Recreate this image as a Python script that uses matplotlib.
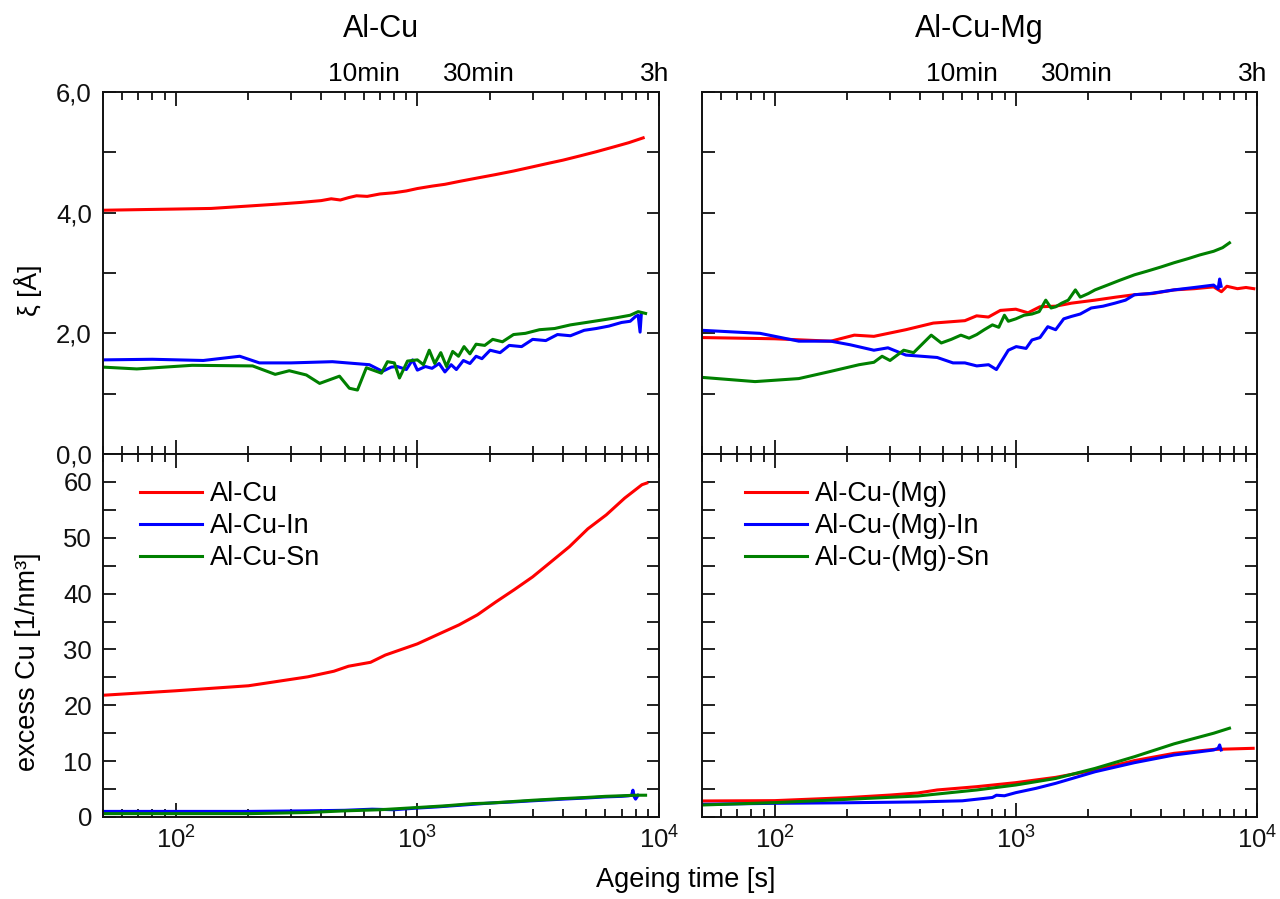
import matplotlib
matplotlib.use("Agg")
import matplotlib.pyplot as plt
from matplotlib.ticker import LogLocator, NullFormatter, FixedLocator, FuncFormatter

plt.rcParams['font.family'] = ['Liberation Sans', 'DejaVu Sans']
plt.rcParams['mathtext.fontset'] = 'custom'
plt.rcParams['mathtext.rm'] = 'Liberation Sans'
plt.rcParams['mathtext.it'] = 'Liberation Sans:italic'
plt.rcParams['mathtext.bf'] = 'Liberation Sans:bold'

# ---------------- data ----------------
panel_titles = ["Al-Cu", "Al-Cu-Mg"]
time_labels = ["10min", "30min", "3h"]
time_label_pos = [600, 1800, 9600]
legend_left = ["Al-Cu", "Al-Cu-In", "Al-Cu-Sn"]
legend_right = ["Al-Cu-(Mg)", "Al-Cu-(Mg)-In", "Al-Cu-(Mg)-Sn"]
colors = ["#ff0000", "#0000ff", "#008000"]
xi_ticks = [0, 2, 4, 6]
xi_minor = [1, 3, 5]
cu_ticks = [0, 10, 20, 30, 40, 50, 60]
cu_minor = [5, 15, 25, 35, 45, 55]

# top-left: correlation length xi [A]
tl_red_x = [50, 70, 100, 140, 200, 260, 330, 400, 440, 480, 520, 560, 620, 700, 800, 900, 1000, 1150, 1300,
            1500, 1800, 2100, 2500, 3000, 3500, 4000, 4700, 5500, 6500, 7500, 8600]
tl_red_y = [4.04, 4.05, 4.06, 4.07, 4.11, 4.14, 4.17, 4.20, 4.23, 4.21, 4.25, 4.28, 4.27, 4.31, 4.33, 4.36, 4.40,
            4.44, 4.47, 4.52, 4.58, 4.63, 4.69, 4.76, 4.82, 4.87, 4.94, 5.01, 5.09, 5.16, 5.24]
tl_blue_x = [50, 80, 130, 184, 222, 300, 445, 550, 633, 717, 780, 826, 900, 955, 1000, 1080, 1150, 1230, 1300,
             1380, 1450, 1550, 1650, 1750, 1850, 2000, 2200, 2400, 2700, 3000, 3400, 3800, 4300, 4900, 5500,
             6200, 7000, 7600, 8000, 8200, 8350, 8450]
tl_blue_y = [1.56, 1.57, 1.55, 1.62, 1.51, 1.51, 1.53, 1.50, 1.48, 1.37, 1.44, 1.45, 1.40, 1.56, 1.39, 1.45,
             1.42, 1.50, 1.36, 1.48, 1.40, 1.55, 1.50, 1.62, 1.58, 1.72, 1.68, 1.80, 1.78, 1.90, 1.88, 1.98,
             1.96, 2.05, 2.08, 2.12, 2.18, 2.20, 2.28, 2.30, 2.02, 2.32]
tl_green_x = [50, 69, 117, 208, 258, 295, 347, 394, 476, 523, 565, 615, 710, 752, 803, 843, 910, 1000, 1060,
              1120, 1180, 1250, 1320, 1400, 1480, 1560, 1650, 1750, 1900, 2050, 2250, 2500, 2800, 3200, 3700,
              4300, 5000, 5800, 6700, 7600, 8200, 8800]
tl_green_y = [1.44, 1.41, 1.47, 1.46, 1.32, 1.38, 1.31, 1.17, 1.29, 1.09, 1.06, 1.43, 1.34, 1.53, 1.51, 1.26,
              1.54, 1.56, 1.48, 1.72, 1.50, 1.68, 1.45, 1.70, 1.62, 1.78, 1.66, 1.82, 1.80, 1.90, 1.86, 1.98,
              2.00, 2.06, 2.08, 2.14, 2.18, 2.22, 2.26, 2.30, 2.36, 2.33]

# top-right
tr_red_x = [50, 100, 171, 214, 258, 350, 455, 615, 688, 770, 863, 1000, 1124, 1258, 1463, 1700, 2130, 2600,
            3105, 3700, 4530, 5500, 6610, 7120, 7500, 8300, 9000, 9700]
tr_red_y = [1.93, 1.91, 1.87, 1.97, 1.95, 2.06, 2.17, 2.21, 2.29, 2.27, 2.38, 2.40, 2.34, 2.44, 2.45, 2.50,
            2.55, 2.60, 2.64, 2.66, 2.72, 2.74, 2.77, 2.69, 2.78, 2.74, 2.76, 2.74]
tr_blue_x = [50, 87, 126, 171, 206, 258, 295, 350, 472, 549, 615, 689, 771, 831, 931, 1004, 1103, 1167, 1260,
             1357, 1463, 1580, 1700, 1850, 2054, 2300, 2575, 2850, 3105, 3600, 4530, 5500, 6610, 6900, 7000, 7100]
tr_blue_y = [2.05, 2.00, 1.87, 1.87, 1.81, 1.72, 1.76, 1.64, 1.60, 1.51, 1.51, 1.46, 1.48, 1.40, 1.72, 1.78,
             1.75, 1.89, 1.93, 2.11, 2.06, 2.24, 2.28, 2.32, 2.42, 2.45, 2.50, 2.55, 2.64, 2.66, 2.72, 2.76,
             2.80, 2.74, 2.90, 2.78]
tr_green_x = [50, 83, 126, 171, 224, 258, 279, 301, 343, 377, 446, 491, 540, 592, 640, 689, 740, 800, 850, 897,
              931, 1000, 1082, 1167, 1250, 1331, 1400, 1463, 1550, 1650, 1766, 1850, 2000, 2130, 2400, 2700,
              3105, 3500, 4000, 4530, 5200, 5800, 6610, 7200, 7690]
tr_green_y = [1.27, 1.20, 1.25, 1.37, 1.48, 1.52, 1.62, 1.55, 1.72, 1.68, 1.97, 1.84, 1.90, 1.97, 1.92, 1.98,
              2.06, 2.14, 2.10, 2.30, 2.20, 2.24, 2.30, 2.32, 2.36, 2.55, 2.42, 2.44, 2.50, 2.55, 2.72, 2.60,
              2.66, 2.72, 2.80, 2.88, 2.97, 3.03, 3.10, 3.17, 3.24, 3.30, 3.36, 3.42, 3.50]

# bottom-left: excess Cu [1/nm^3]
bl_red_x = [50, 100, 200, 352, 451, 519, 640, 737, 1000, 1247, 1487, 1772, 2111, 2516, 3000, 3575, 4258, 5075,
            6050, 7210, 8500, 8900]
bl_red_y = [21.8, 22.6, 23.5, 25.1, 26.1, 27.0, 27.7, 29.0, 31.0, 32.9, 34.4, 36.2, 38.5, 40.7, 43.0, 45.7,
            48.4, 51.6, 54.1, 57.1, 59.5, 59.8]
bl_blue_x = [50, 100, 200, 350, 500, 650, 800, 1000, 1200, 1500, 2000, 2500, 3000, 4000, 5000, 6000, 7000, 7500,
             7700, 7800, 7900, 8000, 8200]
bl_blue_y = [1.0, 1.0, 1.0, 1.1, 1.2, 1.4, 1.3, 1.6, 1.8, 2.1, 2.5, 2.7, 2.9, 3.2, 3.4, 3.6, 3.7, 3.8, 3.9,
             4.8, 3.6, 3.2, 3.9]
bl_green_x = [50, 100, 200, 350, 500, 700, 1000, 1300, 1700, 2000, 3000, 4000, 5000, 6000, 7000, 8000, 8800]
bl_green_y = [0.6, 0.6, 0.6, 0.8, 1.1, 1.3, 1.7, 2.0, 2.4, 2.5, 3.0, 3.3, 3.5, 3.7, 3.8, 3.9, 3.9]

# bottom-right
br_red_x = [50, 100, 199, 301, 392, 472, 689, 1000, 1463, 2130, 3105, 4530, 6610, 8000, 9640]
br_red_y = [2.87, 2.93, 3.46, 3.93, 4.3, 4.84, 5.43, 6.15, 7.1, 8.4, 10.1, 11.4, 12.1, 12.2, 12.3]
br_blue_x = [50, 100, 199, 392, 600, 743, 800, 831, 897, 1000, 1212, 1463, 2130, 3105, 4530, 6610, 6900, 7000, 7100]
br_blue_y = [2.27, 2.45, 2.55, 2.7, 2.9, 3.34, 3.5, 3.9, 3.8, 4.36, 5.13, 6.03, 8.1, 9.73, 11.1, 12.0, 12.3,
             12.9, 12.0]
br_green_x = [50, 100, 199, 392, 689, 1000, 1463, 2130, 3105, 4530, 6610, 7690]
br_green_y = [2.15, 2.57, 3.16, 3.76, 4.84, 5.73, 6.9, 8.7, 10.8, 13.1, 15.0, 15.9]

# ---------------- figure ----------------
W, H = 1280, 899
fig = plt.figure(figsize=(W / 100, H / 100), dpi=100)


def fr(x0, y0, x1, y1):
    return [x0 / W, 1 - y1 / H, (x1 - x0) / W, (y1 - y0) / H]


ax_tl = fig.add_axes(fr(103, 92, 659, 454))
ax_tr = fig.add_axes(fr(702, 92, 1257, 454))
ax_bl = fig.add_axes(fr(103, 454, 659, 817))
ax_br = fig.add_axes(fr(702, 454, 1257, 817))

lw = 2.2
series = {
    ax_tl: [(tl_red_x, tl_red_y), (tl_blue_x, tl_blue_y), (tl_green_x, tl_green_y)],
    ax_tr: [(tr_red_x, tr_red_y), (tr_blue_x, tr_blue_y), (tr_green_x, tr_green_y)],
    ax_bl: [(bl_red_x, bl_red_y), (bl_blue_x, bl_blue_y), (bl_green_x, bl_green_y)],
    ax_br: [(br_red_x, br_red_y), (br_blue_x, br_blue_y), (br_green_x, br_green_y)],
}
labels = {ax_bl: legend_left, ax_br: legend_right}

for ax, ser in series.items():
    for i, ((xs, ys), c) in enumerate(zip(ser, colors)):
        lab = labels[ax][i] if ax in labels else None
        ax.plot(xs, ys, color=c, lw=lw, label=lab, solid_joinstyle='round')
    ax.set_xscale('log')
    ax.set_xlim(50, 1e4)
    ax.xaxis.set_major_locator(LogLocator(base=10, numticks=10))
    ax.xaxis.set_minor_locator(LogLocator(base=10, subs=range(2, 10), numticks=20))
    ax.xaxis.set_minor_formatter(NullFormatter())
    ax.tick_params(axis='both', which='both', direction='in', top=True, right=True,
                   labelsize=18.5, width=1.3, colors='#111111')
    ax.tick_params(axis='x', which='major', length=10, pad=7)
    ax.tick_params(axis='x', which='minor', length=5.5)
    ax.tick_params(axis='y', which='both', length=9, pad=8)
    for s in ax.spines.values():
        s.set_linewidth(1.4)
        s.set_color('#111111')

for ax in (ax_tl, ax_tr):
    ax.set_ylim(0, 6)
    ax.yaxis.set_major_locator(FixedLocator(xi_ticks))
    ax.yaxis.set_minor_locator(FixedLocator(xi_minor))
    ax.yaxis.set_major_formatter(FuncFormatter(lambda v, p: f"{v:.1f}".replace('.', ',')))
    ax.tick_params(axis='x', labelbottom=False)

for ax in (ax_bl, ax_br):
    ax.set_ylim(0, 65)
    ax.yaxis.set_major_locator(FixedLocator(cu_ticks))
    ax.yaxis.set_minor_locator(FixedLocator(cu_minor))

for ax in (ax_tr, ax_br):
    ax.tick_params(axis='y', labelleft=False)

# panel titles and top time labels
for ax, title in ((ax_tl, panel_titles[0]), (ax_tr, panel_titles[1])):
    ax.text(0.5, 1 + (92 - 37) / 362, title, transform=ax.transAxes, ha='center', va='baseline', fontsize=22)
    for lbl, pos in zip(time_labels, time_label_pos):
        ax.text(pos, 1 + (92 - 81) / 362, lbl, transform=ax.get_xaxis_transform(), ha='center',
                va='baseline', fontsize=19, clip_on=False)

# axis labels
fig.text(28 / W, 1 - 290 / H, "ξ [Å]", rotation=90, ha='center', va='center', fontsize=19)
fig.text(28 / W, 1 - 662 / H, "excess Cu [1/nm³]", rotation=90, ha='center', va='center', fontsize=19.5)
fig.text(686 / W, 1 - 880 / H, "Ageing time [s]", ha='center', va='center', fontsize=19.5)

# legends
for ax, xa in ((ax_bl, (140 - 103) / 556), (ax_br, (745 - 702) / 555)):
    ax.legend(loc='upper left', bbox_to_anchor=(xa, 0.925), frameon=False, fontsize=19.5,
              handlelength=2.3, handletextpad=0.3, labelspacing=0.22, borderaxespad=0, borderpad=0)

fig.savefig("out.png", dpi=100, facecolor='white')
